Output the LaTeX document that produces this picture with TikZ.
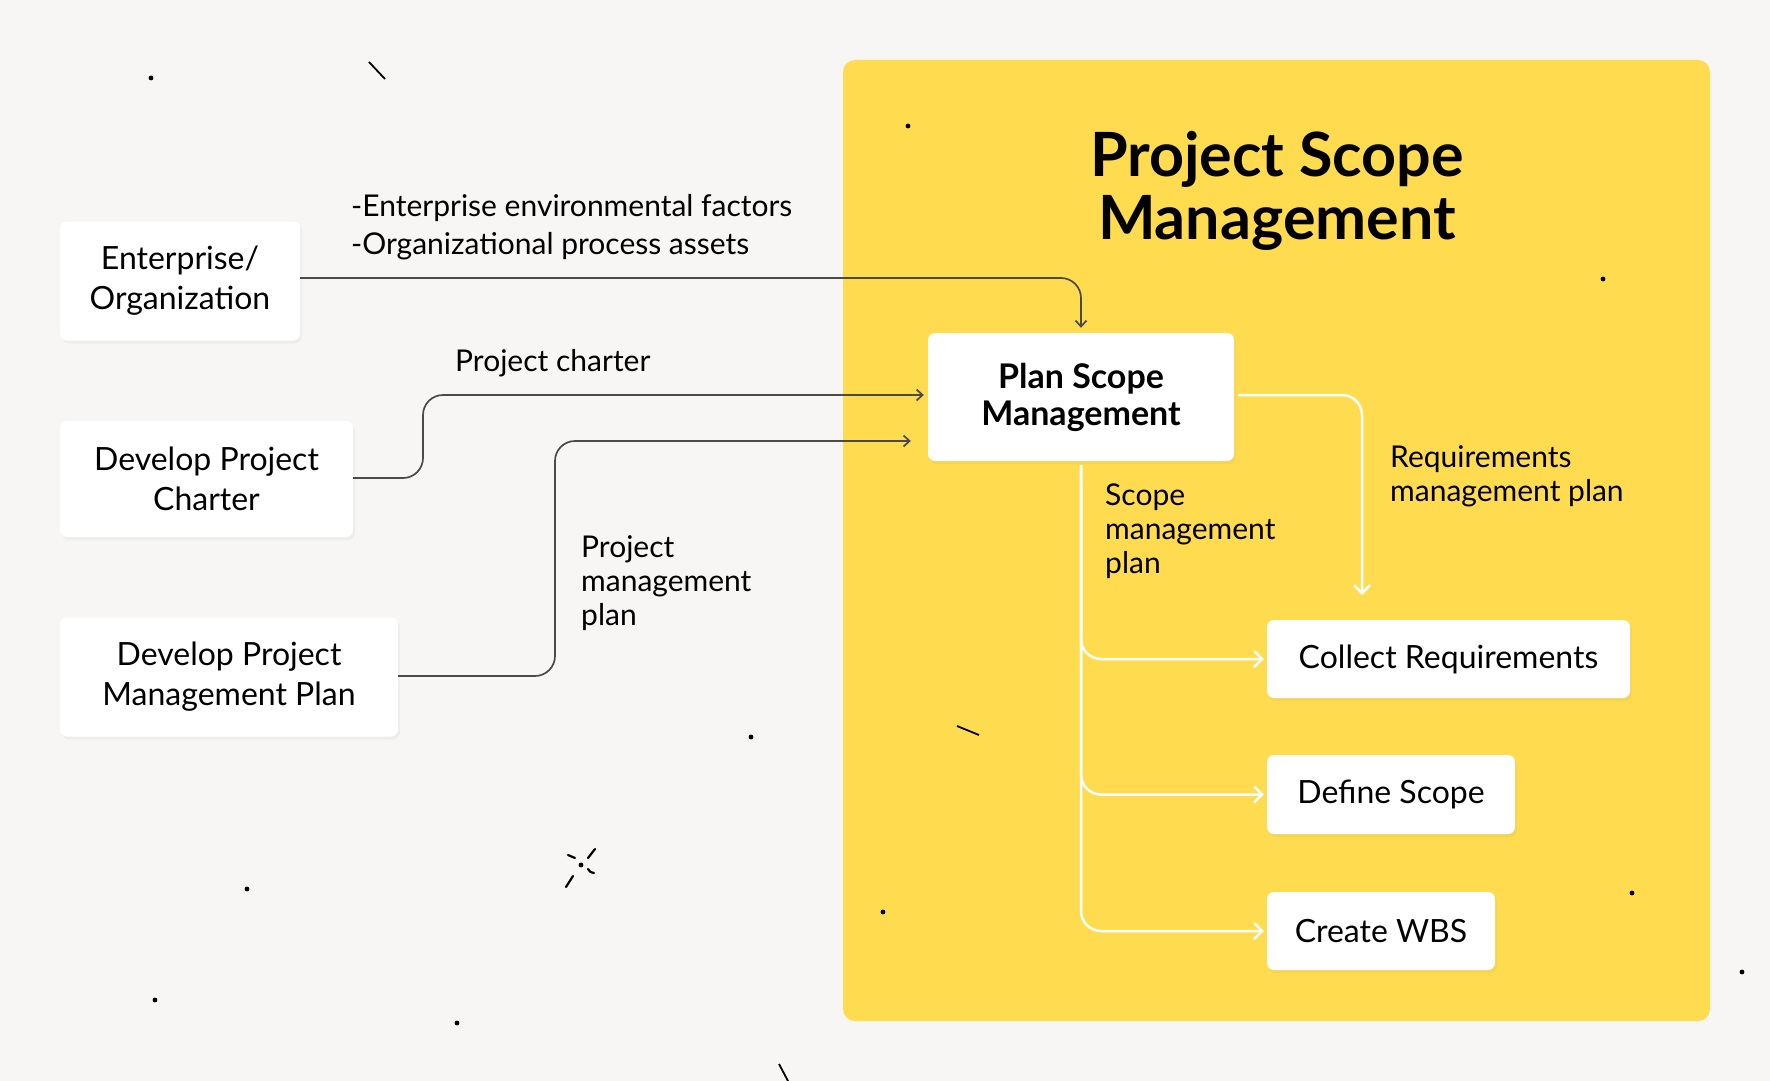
\documentclass[tikz,border=0pt]{standalone}
\usepackage{fontspec}
\setmainfont{Lato}
\usetikzlibrary{arrows.meta,shadows}
\definecolor{paper}{HTML}{F7F6F4}
\definecolor{scopeyellow}{HTML}{FFDB50}
\definecolor{wire}{HTML}{4A4A4A}

\begin{document}
\begin{tikzpicture}[x=1pt,y=-1pt,
    box/.style={fill=white,rounded corners=7pt,align=center,inner sep=0pt,
        font=\fontsize{32}{40}\selectfont,
        drop shadow={opacity=0.07,shadow xshift=2pt,shadow yshift=-3pt}},
    lbl/.style={align=left,inner sep=0pt,font=\fontsize{30}{34}\selectfont},
    wire/.style={draw=wire,line width=1.7pt,rounded corners=20pt,-{Straight Barb[length=6pt,width=11pt]}},
    wline/.style={draw=white,line width=2.5pt,rounded corners=20pt,-{Straight Barb[length=8pt,width=16pt]}}]
        \useasboundingbox[fill=paper](0,0)rectangle(1770,1081);
        \fill[scopeyellow,rounded corners=12pt](843,60)rectangle(1710,1021);
        % scattered marks
        \foreach \x/\y in {151/78,908/126,1603/279,751/737,247/889,883/912,1632/893,1742/972,155/1000,457/1023,581/865}
            \fill(\x,\y)circle(2.4);
        \draw[line width=1.8pt](369,62)--(385,79);
        \draw[line width=1.8pt](957,726)--(979,735);
        \draw[line width=1.8pt](779,1064)--(788,1081);
        \draw[line width=2.2pt,line cap=round](568,855)--(575,858);
        \draw[line width=2.2pt,line cap=round](588,858)--(595,849);
        \draw[line width=2.2pt,line cap=round](588,869)..controls(590,872)..(594,873);
        \draw[line width=2.2pt,line cap=round](573,876)--(566,887);
        % title
        \node[inner sep=0pt,align=center,font=\fontsize{61}{63}\selectfont\bfseries](title)at(1277,191){Project Scope\\Management};
        % boxes
        \node[box,minimum width=240pt,minimum height=119pt](ent)at(180,281){Enterprise/\\Organization};
        \node[box,minimum width=293pt,minimum height=116pt](charter)at(206.5,479){Develop Project\\Charter};
        \node[box,minimum width=338pt,minimum height=119pt](pmp)at(229,677){Develop Project\\Management Plan};
        \node[box,minimum width=306pt,minimum height=128pt,font=\fontsize{34}{37}\selectfont\bfseries](plan)at(1081,397){Plan Scope\\Management};
        \node[box,minimum width=363pt,minimum height=78pt](collect)at(1448.5,659){Collect Requirements};
        \node[box,minimum width=248pt,minimum height=79pt](define)at(1391,794.5){Define Scope};
        \node[box,minimum width=228pt,minimum height=78pt](wbs)at(1381,931){Create WBS};
        % labels (base = last line)
        \node[lbl,anchor=base west,font=\fontsize{30}{38}\selectfont](efx)at(351,254){-Enterprise environmental factors\\-Organizational process assets};
        \node[lbl,anchor=base west](pcl)at(455,371){Project charter};
        \node[lbl,anchor=base west](pml)at(581,625){Project\\management\\plan};
        \node[lbl,anchor=base west](sml)at(1105,573){Scope\\management\\plan};
        \node[lbl,anchor=base west](rml)at(1390,501){Requirements\\management plan};
        % inputs
        \coordinate(reqend)at(1362,595);
        \draw[wire,shorten >=5pt](ent.east|-0,278)-|(plan.north);
        \draw[wire,shorten >=4pt](charter.east|-0,478)-|(423,395)--(plan.west|-0,395);
        \draw[wire,shorten >=17pt](pmp.east|-0,676)-|(555,441)--(plan.west|-555,441);
        % outputs
        \draw[wline,shorten <=4pt](plan.east|-0,395)-|(reqend);
        \draw[wline,shorten <=4pt,shorten >=3pt](plan.south)|-(collect.west);
        \draw[wline,shorten <=4pt,shorten >=3pt](plan.south)|-(define.west);
        \draw[wline,shorten <=4pt,shorten >=3pt](plan.south)|-(wbs.west);
    \end{tikzpicture}
\end{document}
